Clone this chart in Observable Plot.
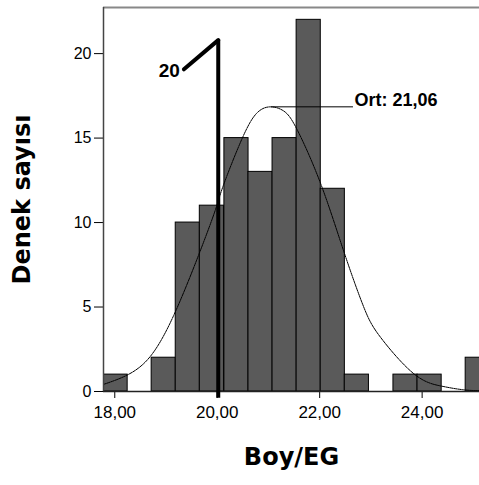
<!DOCTYPE html>
<html>
<head>
<meta charset="utf-8">
<script src="https://cdn.jsdelivr.net/npm/d3@7"></script>
<script src="https://cdn.jsdelivr.net/npm/@observablehq/plot@0.6"></script>
<style>
  html, body { margin: 0; padding: 0; background: white; overflow: hidden; }
  svg g[aria-label^="x-axis"] text { font-size: 17px; }
  svg g[aria-label^="y-axis"] text { font-size: 16px; }
</style>
</head>
<body>
<div id="chart"></div>
<script>
// Histogram bins (lower edges, Boy/EG) and counts
const binLeft = [17.78, 18.25, 18.72, 19.19, 19.66, 20.14, 20.61, 21.08, 21.55, 22.02, 22.49, 22.96, 23.44, 23.91, 24.38, 24.85];
const binWidth = 0.4715;
const counts  = [1, 0, 2, 10, 11, 15, 13, 15, 22, 12, 1, 0, 1, 1, 0, 2];

// Normal curve
const curveX = [17.78, 18.26, 18.70, 19.15, 19.64, 19.97, 20.12, 20.49, 20.78, 21.04, 21.30, 21.56, 22.02, 22.47, 22.86, 23.19, 23.83, 24.36, 24.81, 25.20];
const curveY = [0.42, 1.0, 2.1, 4.5, 8.1, 10.8, 12.2, 15.0, 16.5, 16.85, 16.6, 15.5, 12.3, 8.3, 5.0, 3.2, 1.07, 0.33, 0.1, 0.04];

// Axis ticks
const xTicks = [18, 20, 22, 24];
const yTicks = [0, 5, 10, 15, 20];
const xDomain = [17.78, 25.12];
const yDomain = [0, 22.73];

// Annotations
const markerX = [20.02];
const markerBottom = [-0.4];
const markerTop = [20.8];
const markerSlashX = [19.35, 20.02];
const markerSlashY = [19.07, 20.8];
const markerLabel = ["20"];
const meanValue = [21.06];
const meanPeak = [16.85];
const meanLineEnd = [22.66];
const meanLabel = ["Ort: 21,06"];
const xTitle = ["Boy/EG"];
const yTitle = ["Denek sayısı"];

const bins = binLeft.map((b, i) => ({x1: b, x2: b + binWidth, y: counts[i]})).filter(d => d.y > 0);
const curve = curveX.map((x, i) => ({x, y: curveY[i]}));
const slash = markerSlashX.map((x, i) => ({x, y: markerSlashY[i]}));
const comma = d => d.toFixed(2).replace(".", ",");

const chart = Plot.plot({
  width: 479,
  height: 485,
  marginLeft: 103,
  marginTop: 7,
  marginRight: 0,
  marginBottom: 94,
  style: {fontFamily: "'Liberation Sans', Arial, sans-serif", fontSize: "16px", background: "white", color: "black"},
  x: {domain: xDomain, ticks: xTicks, tickFormat: comma, tickSize: 7, tickPadding: 7, label: null},
  y: {domain: yDomain, ticks: yTicks, tickSize: 9, tickPadding: 3, label: null},
  marks: [
    Plot.rectY(bins, {x1: "x1", x2: "x2", y: "y", fill: "#5a5a5a", stroke: "black", strokeWidth: 1, clip: true}),
    Plot.line(curve, {x: "x", y: "y", curve: "natural", stroke: "black", strokeWidth: 1, strokeDasharray: "3,1", clip: true}),
    Plot.ruleY([yDomain[1]], {stroke: "#888", strokeWidth: 2}),
    Plot.ruleX([xDomain[0]], {stroke: "#444", strokeWidth: 1.5}),
    Plot.ruleY([0], {stroke: "#222", strokeWidth: 1.5}),
    Plot.ruleX(markerX, {x: d => d, y1: markerBottom[0], y2: markerTop[0], stroke: "black", strokeWidth: 4}),
    Plot.line(slash, {x: "x", y: "y", stroke: "black", strokeWidth: 4, strokeLinecap: "round"}),
    Plot.text(markerLabel, {x: markerSlashX[0] - 0.08, y: markerSlashY[0] - 0.1, text: d => d, textAnchor: "end",
      fontFamily: "'Liberation Sans', Arial, sans-serif", fontWeight: "bold", fontSize: 19}),
    Plot.ruleY(meanPeak, {y: d => d, x1: meanValue[0], x2: meanLineEnd[0], stroke: "black", strokeWidth: 1}),
    Plot.text(meanLabel, {x: meanLineEnd[0] + 0.02, y: meanPeak[0], text: d => d, textAnchor: "start", dy: -7,
      fontFamily: "'Liberation Sans', Arial, sans-serif", fontWeight: "bold", fontSize: 18}),
    Plot.text(xTitle, {frameAnchor: "bottom", dy: 73, textAnchor: "middle", text: d => d, fontFamily: "'DejaVu Sans', sans-serif", fontWeight: "bold", fontSize: 24}),
    Plot.text(yTitle, {frameAnchor: "left", dx: -81, rotate: -90, textAnchor: "middle", text: d => d, fontFamily: "'DejaVu Sans', sans-serif", fontWeight: "bold", fontSize: 24})
  ]
});
document.getElementById("chart").appendChild(chart);
</script>
</body>
</html>
